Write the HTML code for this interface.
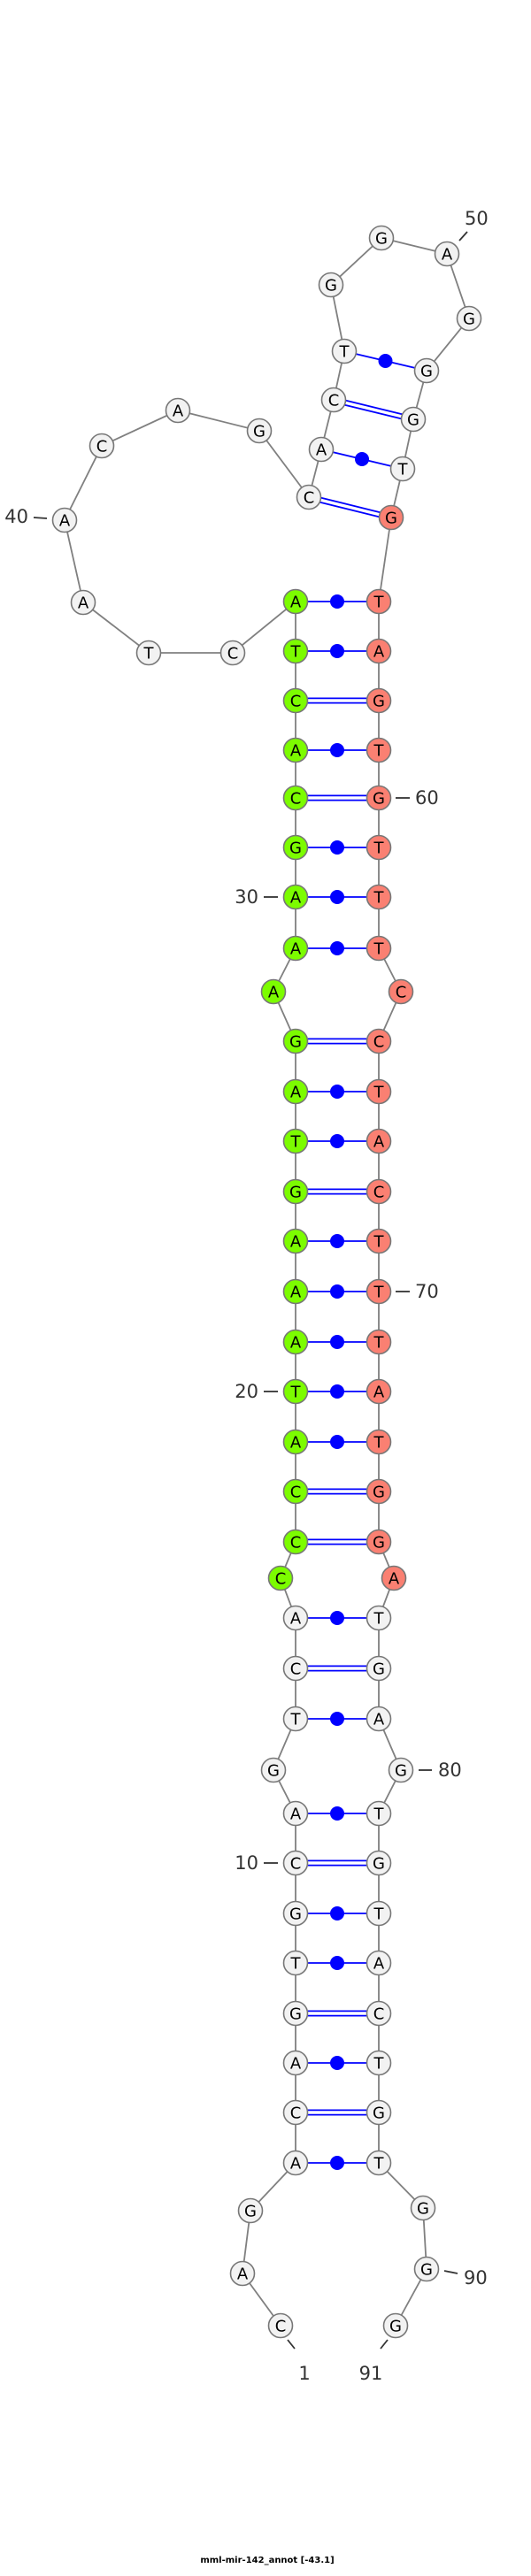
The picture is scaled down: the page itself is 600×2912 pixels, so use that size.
<!DOCTYPE html>
<html><head><meta charset="utf-8"><style>
html,body{margin:0;padding:0;background:#fff;}
svg{display:block;}
.n{stroke:#777;stroke-width:1.6;}
.w{fill:#f2f2f2}.g{fill:#7cfc00}.r{fill:#fa8072}
.t{font-family:"DejaVu Sans","Liberation Sans",sans-serif;font-size:18px;fill:#000;text-anchor:middle;dominant-baseline:central;}
.l{font-family:"DejaVu Sans","Liberation Sans",sans-serif;font-size:21px;fill:#333;dominant-baseline:central;}
.bb{stroke:#808080;stroke-width:1.8;fill:none;}
.bp{stroke:#0000ff;stroke-width:1.8;}
.tk{stroke:#333;stroke-width:1.8;}
</style></head><body>
<svg id="s" width="600" height="2912" xmlns="http://www.w3.org/2000/svg">
<g id="bbg"></g><g id="bpg"></g><g id="ndg"></g>
<g>
<line class="tk" x1="38" y1="585" x2="53" y2="586"/><text class="l" x="32" y="584" text-anchor="end">40</text>
<line class="tk" x1="519" y1="272" x2="528" y2="262"/><text class="l" x="525" y="247">50</text>
<line class="tk" x1="447" y1="902" x2="463" y2="902"/><text class="l" x="469" y="902">60</text>
<line class="tk" x1="298" y1="1014" x2="314" y2="1014"/><text class="l" x="292" y="1014" text-anchor="end">30</text>
<line class="tk" x1="447" y1="1460" x2="463" y2="1460"/><text class="l" x="469" y="1460">70</text>
<line class="tk" x1="298" y1="1573" x2="314" y2="1573"/><text class="l" x="292" y="1573" text-anchor="end">20</text>
<line class="tk" x1="473" y1="2001" x2="488" y2="2001"/><text class="l" x="495" y="2001">80</text>
<line class="tk" x1="298" y1="2106" x2="314" y2="2106"/><text class="l" x="292" y="2106" text-anchor="end">10</text>
<line class="tk" x1="502" y1="2567" x2="517" y2="2570"/><text class="l" x="524" y="2575">90</text>
<line class="tk" x1="325" y1="2645" x2="333" y2="2655"/><text class="l" x="344" y="2683" text-anchor="middle">1</text>
<line class="tk" x1="438" y1="2645" x2="430" y2="2655"/><text class="l" x="419" y="2683" text-anchor="middle">91</text>
<text x="302" y="2897" text-anchor="middle" style="font-family:'DejaVu Sans','Liberation Sans',sans-serif;font-size:10px;font-weight:bold;fill:#000">mml-mir-142_annot [-43.1]</text>
</g>
</svg>
<script>
var NS="http://www.w3.org/2000/svg";
function el(p,t,a,txt){var e=document.createElementNS(NS,t);for(var k in a)e.setAttribute(k,a[k]);if(txt)e.textContent=txt;document.getElementById(p).appendChild(e);return e;}
var L="ATCACGAAAGATGAAATACCACTGACGTGACA",R="TAGTGTTTCCTACTTTATGGATGAGTGTACTGT";
L="ATCACGAAAGATGAAATACCCACTGACGTGACA";
var ys=[680,736,792,848,902,958,1014,1072,1121,1177,1234,1290,1347,1403,1460,1517,1573,1630,1686,1743,1784,1829,1886,1943,2001,2050,2106,2163,2219,2276,2332,2388,2445];
var left=[],right=[];
for(var i=0;i<33;i++){
 var lx=334,rx=428;
 if(i==8){lx=309;rx=453;} if(i==20){lx=317;rx=445;} if(i==24){lx=309;rx=453;}
 var c=i<=20?1:0;
 left.push([lx,ys[i],L[i],c?"g":"w"]);right.push([rx,ys[i],R[i],c?"r":"w"]);
}
var top=[[429,679,"x"]];
// upper part nodes
var upper=[[263,738,"C","w"],[168,738,"T","w"],[94,681,"A","w"],[73,588,"A","w"],[115,504,"C","w"],[201,464,"A","w"],[293,487,"G","w"],[349,562,"C","w"],[363,508,"A","w"],[377,452,"C","w"],[389,397,"T","w"],[374,322,"G","w"],[431,269,"G","w"],[505,287,"A","w"],[530,360,"G","w"],[482,419,"G","w"],[467,474,"G","w"],[455,530,"T","w"],[442,585,"G","r"]];
var botL=[[283,2499,"G","w"],[274,2570,"A","w"],[317,2629,"C","w"]];
var botR=[[478,2496,"G","w"],[482,2565,"G","w"],[447,2629,"G","w"]];
// backbone order: 1..91
var seq=[];
for(var i=botL.length-1;i>=0;i--)seq.push(botL[i]);
for(var i=32;i>=0;i--)seq.push(left[i]);
for(var i=0;i<upper.length;i++)seq.push(upper[i]);
for(var i=0;i<33;i++)seq.push(right[i]);
for(var i=0;i<botR.length;i++)seq.push(botR[i]);
var pts=seq.map(function(n){return n[0]+","+n[1]}).join(" ");
el("bbg","polyline",{"class":"bb",points:pts});
function pair(a,b){
 var dbl=(a[2]+b[2]=="GC"||a[2]+b[2]=="CG");
 var dx=b[0]-a[0],dy=b[1]-a[1],d=Math.sqrt(dx*dx+dy*dy),px=-dy/d*2.6,py=dx/d*2.6;
 if(dbl){
  el("bpg","line",{"class":"bp",x1:a[0]+px,y1:a[1]+py,x2:b[0]+px,y2:b[1]+py});
  el("bpg","line",{"class":"bp",x1:a[0]-px,y1:a[1]-py,x2:b[0]-px,y2:b[1]-py});
 } else {
  el("bpg","line",{"class":"bp",x1:a[0],y1:a[1],x2:b[0],y2:b[1]});
  el("bpg","circle",{cx:(a[0]+b[0])/2,cy:(a[1]+b[1])/2,r:8,fill:"#0000ff"});
 }
}
for(var i=0;i<33;i++){ if(i==8||i==20||i==24)continue; pair(left[i],right[i]); }
pair(upper[7],upper[18]);pair(upper[8],upper[17]);pair(upper[9],upper[16]);pair(upper[10],upper[15]);
seq.forEach(function(n){
 el("ndg","circle",{"class":"n "+n[3],cx:n[0],cy:n[1],r:13.5});
 el("ndg","text",{"class":"t",x:n[0],y:n[1]+1},n[2]);
});
</script>
</body></html>
